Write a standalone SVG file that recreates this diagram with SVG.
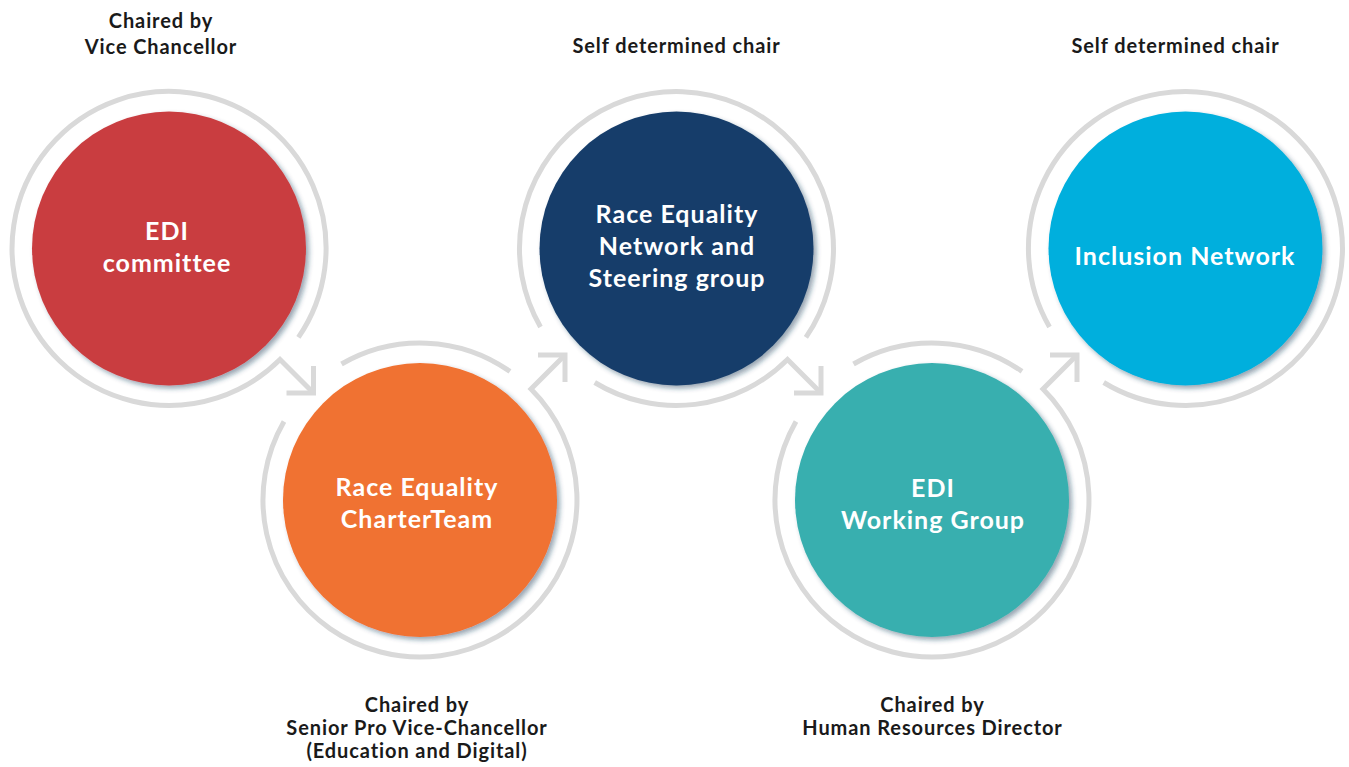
<svg xmlns="http://www.w3.org/2000/svg" width="1349" height="767" viewBox="0 0 1349 767">
  <style>
    .ring { fill: none; stroke: #d9d9d9; stroke-width: 5; stroke-linejoin: miter; }
    .disc { filter: url(#shade); }
    .inner { font-family: "Lato", "Open Sans", sans-serif; font-weight: 700; font-size: 25px; letter-spacing: 1px; fill: #ffffff; text-anchor: middle; }
    .chair { font-family: "Lato", "Open Sans", sans-serif; font-weight: 700; font-size: 20px; letter-spacing: 0.9px; fill: #1a1a1a; text-anchor: middle; }
  </style>
  <defs>
    <filter id="shade" x="-10%" y="-10%" width="125%" height="125%">
      <feDropShadow dx="3" dy="3" stdDeviation="2.5" flood-color="#1f3b57" flood-opacity="0.45"/>
    </filter>
  </defs>

  <rect width="1349" height="767" fill="#ffffff"/>

  <!-- grey rings with outgoing arrows -->
  <g id="connectors">
    <!-- ring 1 + arrow to node 2 -->
    <path class="ring" d="M298.4 337.4 A157 157 0 1 0 280 359.5 L313.5 393"/>
    <polyline class="ring" points="313.5,366 313.5,393 286.5,393"/>
    <!-- ring 2 + arrow to node 3 -->
    <path class="ring" d="M284 421.5 A157 157 0 1 0 531 389 L565 355"/>
    <path class="ring" d="M341.5 364 A157 157 0 0 1 510 371.4"/>
    <polyline class="ring" points="538,355 565,355 565,382"/>
    <!-- ring 3 + arrow to node 4 -->
    <path class="ring" d="M805.9 337.4 A157 157 0 1 0 540.5 327"/>
    <path class="ring" d="M594.7 382.5 A157 157 0 0 0 787.5 359.5 L821 393"/>
    <polyline class="ring" points="821,366 821,393 794,393"/>
    <!-- ring 4 + arrow to node 5 -->
    <path class="ring" d="M796 421.5 A157 157 0 1 0 1043 389 L1077 355"/>
    <path class="ring" d="M853.5 364 A157 157 0 0 1 1022 371.4"/>
    <polyline class="ring" points="1050,355 1077,355 1077,382"/>
    <!-- ring 5 -->
    <path class="ring" d="M1103.7 382.5 A157 157 0 1 0 1049.5 327"/>
  </g>

  <g id="node-edi-committee">
    <circle class="disc" cx="169" cy="248.5" r="137" fill="#c93e40"/>
    <text class="inner" x="167" y="240">EDI</text>
    <text class="inner" x="167" y="272">committee</text>
    <text class="chair" x="161" y="28">Chaired by</text>
    <text class="chair" x="161" y="54">Vice Chancellor</text>
  </g>

  <g id="node-rec-team">
    <circle class="disc" cx="420" cy="500" r="137" fill="#f07230"/>
    <text class="inner" x="417" y="496">Race Equality</text>
    <text class="inner" x="417" y="528">CharterTeam</text>
    <text class="chair" x="417" y="712">Chaired by</text>
    <text class="chair" x="417" y="735">Senior Pro Vice-Chancellor</text>
    <text class="chair" x="417" y="758">(Education and Digital)</text>
  </g>

  <g id="node-race-network">
    <circle class="disc" cx="676.5" cy="248.5" r="137" fill="#173d6a"/>
    <text class="inner" x="677" y="223">Race Equality</text>
    <text class="inner" x="677" y="255">Network and</text>
    <text class="inner" x="677" y="287">Steering group</text>
    <text class="chair" x="676.5" y="53">Self determined chair</text>
  </g>

  <g id="node-edi-working">
    <circle class="disc" cx="932" cy="500" r="137" fill="#38afaf"/>
    <text class="inner" x="933" y="497">EDI</text>
    <text class="inner" x="933" y="529">Working Group</text>
    <text class="chair" x="932.5" y="712">Chaired by</text>
    <text class="chair" x="932.5" y="735">Human Resources Director</text>
  </g>

  <g id="node-inclusion">
    <circle class="disc" cx="1185.5" cy="248.5" r="137" fill="#00afdd"/>
    <text class="inner" x="1185" y="265">Inclusion Network</text>
    <text class="chair" x="1175.5" y="53">Self determined chair</text>
  </g>
</svg>
